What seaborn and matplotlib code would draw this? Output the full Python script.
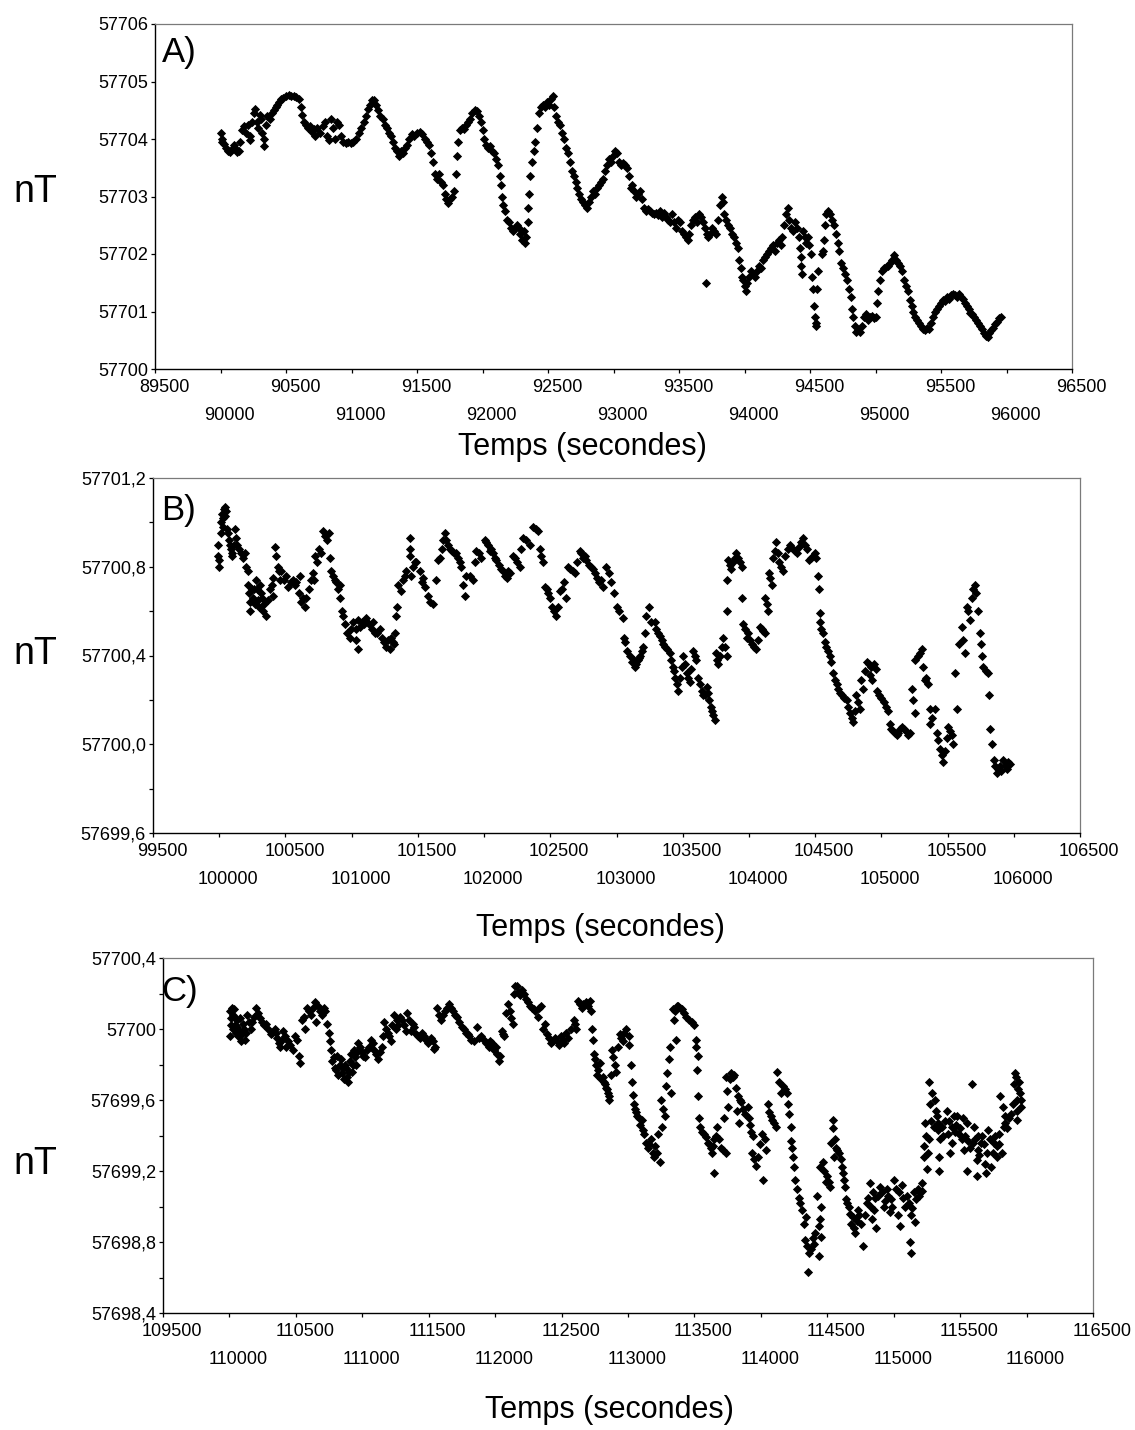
import matplotlib
matplotlib.use("Agg")
import matplotlib.pyplot as plt
import matplotlib.transforms as mtransforms
import pandas as pd
import seaborn as sns

# ---------------- data ----------------
time_a = [
    90005, 90010, 90015, 90030, 90045, 90060, 90075, 90090, 90100, 90110,
    90125, 90140, 90150, 90165, 90180, 90195, 90210, 90225, 90228, 90240,
    90255, 90265, 90275, 90290, 90300, 90310, 90320, 90330, 90335, 90345,
    90355, 90375, 90390, 90405, 90420, 90435, 90450, 90465, 90480, 90500,
    90520, 90540, 90560, 90580, 90600, 90615, 90625, 90635, 90650, 90665,
    90680, 90695, 90710, 90725, 90740, 90760, 90780, 90800, 90815, 90830,
    90845, 90860, 90875, 90890, 90905, 90920, 90935, 90955, 90975, 90995,
    91015, 91035, 91055, 91075, 91095, 91110, 91125, 91140, 91160, 91175,
    91190, 91205, 91220, 91240, 91255, 91270, 91285, 91300, 91315, 91330,
    91345, 91360, 91375, 91390, 91405, 91420, 91440, 91460, 91480, 91500,
    91520, 91540, 91560, 91575, 91590, 91605, 91620, 91635, 91650, 91665,
    91680, 91695, 91710, 91725, 91740, 91755, 91770, 91785, 91800, 91805,
    91815, 91830, 91845, 91860, 91875, 91890, 91905, 91920, 91940, 91955,
    91970, 91985, 92000, 92015, 92030, 92045, 92060, 92075, 92090, 92100,
    92115, 92130, 92140, 92150, 92160, 92170, 92185, 92200, 92215, 92230,
    92245, 92260, 92275, 92290, 92300, 92315, 92325, 92335, 92345, 92350,
    92355, 92365, 92375, 92390, 92400, 92415, 92430, 92445, 92460, 92475,
    92490, 92505, 92520, 92535, 92545, 92560, 92575, 92590, 92605, 92620,
    92635, 92650, 92665, 92680, 92695, 92710, 92725, 92740, 92755, 92770,
    92785, 92800, 92815, 92830, 92845, 92860, 92875, 92890, 92905, 92920,
    92935, 92950, 92965, 92980, 92995, 93010, 93025, 93040, 93055, 93070,
    93085, 93100, 93115, 93130, 93145, 93160, 93175, 93190, 93205, 93220,
    93235, 93250, 93265, 93280, 93295, 93310, 93325, 93340, 93355, 93370,
    93385, 93400, 93415, 93430, 93445, 93460, 93475, 93490, 93505, 93520,
    93535, 93550, 93565, 93580, 93595, 93610, 93625, 93640, 93655, 93670,
    93685, 93700, 93710, 93708, 93725, 93740, 93755, 93770, 93785, 93800,
    93815, 93825, 93835, 93845, 93860, 93875, 93890, 93905, 93920, 93935,
    93950, 93960, 93970, 93980, 93990, 94000, 94010, 94020, 94035, 94050,
    94065, 94080, 94095, 94110, 94125, 94140, 94155, 94170, 94185, 94200,
    94215, 94230, 94245, 94260, 94275, 94290, 94305, 94320, 94330, 94340,
    94355, 94370, 94385, 94400, 94415, 94425, 94430, 94435, 94440, 94450,
    94460, 94470, 94485, 94495, 94505, 94515, 94522, 94528, 94535, 94542,
    94547, 94555, 94560, 94590, 94600, 94610, 94615, 94625, 94640, 94650,
    94665, 94680, 94695, 94710, 94725, 94740, 94755, 94770, 94785, 94800,
    94810, 94820, 94830, 94840, 94850, 94865, 94880, 94895, 94910, 94925,
    94940, 94955, 94970, 94985, 95000, 95012, 95022, 95035, 95050, 95065,
    95080, 95095, 95110, 95125, 95140, 95155, 95170, 95185, 95200, 95215,
    95230, 95245, 95260, 95275, 95290, 95305, 95320, 95335, 95350, 95365,
    95380, 95395, 95410, 95425, 95440, 95455, 95470, 95485, 95500, 95515,
    95530, 95545, 95560, 95575, 95590, 95605, 95620, 95635, 95650, 95665,
    95680, 95695, 95710, 95725, 95740, 95755, 95770, 95785, 95800, 95815,
    95830, 95845, 95855, 95865, 95880, 95895, 95910, 95925, 95940, 95955,
]
field_a = [
    57704.10, 57704.00, 57703.95, 57703.92, 57703.85, 57703.80, 57703.78, 57703.82, 57703.90, 57703.85,
    57703.78, 57703.80, 57703.95, 57704.15, 57704.22, 57704.10, 57704.25, 57704.05, 57703.98, 57704.30,
    57704.45, 57704.52, 57704.30, 57704.20, 57704.42, 57704.35, 57704.10, 57704.00, 57703.88, 57704.25,
    57704.40, 57704.35, 57704.45, 57704.50, 57704.55, 57704.60, 57704.65, 57704.70, 57704.72, 57704.75,
    57704.76, 57704.74, 57704.75, 57704.73, 57704.70, 57704.55, 57704.42, 57704.30, 57704.25, 57704.20,
    57704.22, 57704.12, 57704.18, 57704.05, 57704.20, 57704.10, 57704.22, 57704.30, 57704.05, 57703.98,
    57704.35, 57704.20, 57704.00, 57704.30, 57704.25, 57704.05, 57703.95, 57703.93, 57703.94, 57703.93,
    57703.95, 57704.00, 57704.10, 57704.20, 57704.30, 57704.40, 57704.52, 57704.60, 57704.68, 57704.68,
    57704.60, 57704.50, 57704.40, 57704.35, 57704.25, 57704.20, 57704.10, 57704.05, 57703.95, 57703.85,
    57703.80, 57703.70, 57703.80, 57703.75, 57703.85, 57703.90, 57704.00, 57704.08, 57704.05, 57704.10,
    57704.12, 57704.08, 57704.00, 57703.95, 57703.90, 57703.75, 57703.60, 57703.40, 57703.30, 57703.40,
    57703.25, 57703.20, 57703.05, 57702.95, 57702.88, 57702.95, 57703.00, 57703.10, 57703.40, 57703.70,
    57703.95, 57704.15, 57704.20, 57704.18, 57704.25, 57704.30, 57704.35, 57704.45, 57704.50, 57704.48,
    57704.40, 57704.30, 57704.15, 57704.00, 57703.90, 57703.85, 57703.88, 57703.80, 57703.75, 57703.65,
    57703.55, 57703.35, 57703.20, 57703.00, 57702.85, 57702.75, 57702.60, 57702.55, 57702.45, 57702.40,
    57702.45, 57702.50, 57702.45, 57702.35, 57702.25, 57702.40, 57702.20, 57702.30, 57702.55, 57702.80,
    57703.05, 57703.35, 57703.60, 57703.80, 57703.95, 57704.20, 57704.45, 57704.55, 57704.60, 57704.55,
    57704.65, 57704.60, 57704.70, 57704.74, 57704.55, 57704.40, 57704.30, 57704.25, 57704.10, 57704.00,
    57703.85, 57703.75, 57703.60, 57703.45, 57703.35, 57703.25, 57703.15, 57703.05, 57702.95, 57702.90,
    57702.85, 57702.80, 57702.90, 57703.00, 57703.10, 57703.05, 57703.15, 57703.20, 57703.25, 57703.30,
    57703.45, 57703.55, 57703.65, 57703.60, 57703.70, 57703.80, 57703.75, 57703.60, 57703.55, 57703.58,
    57703.55, 57703.50, 57703.35, 57703.15, 57703.20, 57703.10, 57703.00, 57703.05, 57703.10, 57702.95,
    57702.80, 57702.75, 57702.78, 57702.75, 57702.72, 57702.70, 57702.72, 57702.68, 57702.75, 57702.65,
    57702.72, 57702.65, 57702.60, 57702.55, 57702.70, 57702.55, 57702.45, 57702.60, 57702.55, 57702.40,
    57702.35, 57702.30, 57702.25, 57702.35, 57702.50, 57702.60, 57702.65, 57702.55, 57702.70, 57702.65,
    57702.55, 57702.45, 57702.35, 57701.49, 57702.30, 57702.35, 57702.45, 57702.40, 57702.35, 57702.60,
    57702.85, 57703.00, 57702.90, 57702.70, 57702.60, 57702.50, 57702.45, 57702.35, 57702.30, 57702.20,
    57702.10, 57701.90, 57701.75, 57701.60, 57701.55, 57701.45, 57701.35, 57701.50, 57701.60, 57701.70,
    57701.65, 57701.60, 57701.70, 57701.80, 57701.75, 57701.90, 57701.95, 57702.00, 57702.05, 57702.10,
    57702.15, 57702.05, 57702.20, 57702.25, 57702.15, 57702.30, 57702.50, 57702.70, 57702.80, 57702.60,
    57702.45, 57702.40, 57702.55, 57702.45, 57702.30, 57702.10, 57701.95, 57701.80, 57701.65, 57702.40,
    57702.30, 57702.20, 57702.30, 57702.15, 57702.00, 57701.60, 57701.40, 57701.10, 57700.90, 57700.75,
    57700.80, 57701.40, 57701.70, 57702.00, 57702.05, 57702.25, 57702.50, 57702.70, 57702.75, 57702.70,
    57702.60, 57702.50, 57702.35, 57702.20, 57702.05, 57701.85, 57701.75, 57701.65, 57701.55, 57701.40,
    57701.25, 57701.05, 57700.90, 57700.75, 57700.65, 57700.68, 57700.65, 57700.75, 57700.90, 57700.95,
    57700.85, 57700.90, 57700.92, 57700.88, 57700.90, 57701.15, 57701.35, 57701.55, 57701.70, 57701.75,
    57701.78, 57701.80, 57701.85, 57701.90, 57701.98, 57701.90, 57701.85, 57701.80, 57701.70, 57701.55,
    57701.45, 57701.35, 57701.20, 57701.10, 57701.00, 57700.90, 57700.85, 57700.80, 57700.75, 57700.70,
    57700.68, 57700.72, 57700.70, 57700.80, 57700.90, 57701.00, 57701.05, 57701.10, 57701.15, 57701.20,
    57701.18, 57701.25, 57701.22, 57701.28, 57701.30, 57701.28, 57701.25, 57701.30, 57701.25, 57701.22,
    57701.15, 57701.10, 57701.05, 57700.98, 57700.95, 57700.90, 57700.85, 57700.80, 57700.75, 57700.70,
    57700.62, 57700.58, 57700.55, 57700.62, 57700.68, 57700.72, 57700.78, 57700.82, 57700.88, 57700.90,
]

time_b = [
    99990, 99992, 99995, 100010, 100015, 100020, 100030, 100035, 100045, 100050,
    100060, 100065, 100075, 100080, 100090, 100095, 100117, 100125, 100135, 100150,
    100165, 100180, 100195, 100205, 100215, 100220, 100225, 100230, 100235, 100245,
    100255, 100280, 100283, 100295, 100298, 100310, 100313, 100325, 100328, 100340,
    100350, 100406, 100409, 100420, 100430, 100445, 100470, 100490, 100505, 100520,
    100540, 100583, 100600, 100608, 100615, 100630, 100645, 100658, 100709, 100712,
    100721, 100740, 100755, 100770, 100784, 100800, 100815, 100828, 100835, 100847,
    100873, 100910, 100915, 100925, 100935, 100950, 100965, 100986, 101011, 101030,
    101036, 101045, 101050, 101060, 101075, 101111, 101130, 101150, 101165, 101180,
    101212, 101230, 101245, 101260, 101275, 101288, 101300, 101320, 101338, 101340,
    101350, 101375, 101413, 101438, 101440, 101442, 101450, 101464, 101489, 101515,
    101540, 101552, 101575, 101595, 101615, 101640, 101650, 101703, 101715, 101729,
    101741, 101791, 101829, 101854, 101867, 101892, 101917, 101942, 101980, 102005,
    102030, 102055, 102093, 102131, 102144, 102170, 102194, 102219, 102269, 102295,
    102345, 102370, 102408, 102420, 102446, 102458, 102496, 102510, 102546, 102571,
    102622, 102634, 102685, 102723, 102748, 102773, 102823, 102849, 102899, 102924,
    102962, 103000, 103050, 103055, 103063, 103080, 103100, 103120, 103140, 103160,
    103180, 103200, 103226, 103245, 103264, 103289, 103315, 103340, 103365, 103403,
    103425, 103445, 103466, 103503, 103530, 103554, 103579, 103600, 103617, 103655,
    103680, 103700, 103720, 103743, 103750, 103768, 103806, 103831, 103835, 103838,
    103843, 103868, 103906, 103944, 103948, 103957, 103994, 104025, 104057, 104082,
    104120, 104125, 104146, 104150, 104171, 104196, 104208, 104230, 104259, 104309,
    104360, 104410, 104435, 104455, 104497, 104523, 104526, 104535, 104538, 104560,
    104573, 104598, 104620, 104636, 104674, 104737, 104762, 104787, 104812, 104837,
    104845, 104863, 104888, 104925, 104930, 104963, 104966, 105001, 105052, 105064,
    105090, 105115, 105140, 105153, 105216, 105228, 105253, 105256, 105304, 105317,
    105329, 105354, 105367, 105370, 105404, 105417, 105442, 105467, 105505, 105543,
    105555, 105568, 105606, 105631, 105643, 105669, 105706, 105715, 105730, 105744,
    105750, 105769, 105807, 105815, 105820, 105832, 105850, 105870, 105895, 105920,
    105945, 105971,
    100002, 100025, 100040, 100100, 100108, 100262, 100268, 100370, 100385, 100395,
    100455, 100460, 100555, 100570, 100675, 100690, 100860, 100885, 100898, 100995,
    101090, 101100, 101195, 101310, 101330, 101390, 101400, 101475, 101528, 101665,
    101680, 101690, 101760, 101775, 101805, 101815, 101842, 101930, 101960, 102018,
    102042, 102070, 102080, 102110, 102157, 102182, 102235, 102250, 102282, 102320,
    102390, 102433, 102472, 102485, 102528, 102560, 102590, 102605, 102652, 102668,
    102700, 102735, 102760, 102795, 102810, 102835, 102870, 102885, 102940, 102980,
    103020, 103130, 103150, 103170, 103190, 103212, 103300, 103328, 103352, 103385,
    103415, 103435, 103455, 103480, 103492, 103515, 103542, 103565, 103590, 103630,
    103642, 103668, 103690, 103710, 103730, 103758, 103785, 103795, 103818, 103855,
    103882, 103895, 103920, 103932, 103970, 103983, 104008, 104040, 104068, 104095,
    104108, 104135, 104160, 104185, 104218, 104245, 104275, 104292, 104330, 104345,
    104380, 104395, 104422, 104470, 104485, 104510, 104548, 104585, 104610, 104652,
    104662, 104690, 104705, 104720, 104750, 104775, 104800, 104825, 104875, 104905,
    104915, 104945, 104982, 105020, 105038, 105076, 105102, 105128, 105170, 105185,
    105200, 105240, 105280, 105292, 105340, 105385, 105430, 105455, 105480, 105493,
    105520, 105533, 105585, 105620, 105655, 105685, 105695, 105760, 105790, 105860,
    105880, 105905, 105932, 105958,
]
field_b = [
    57700.90, 57700.85, 57700.80, 57700.95, 57701.00, 57701.04, 57701.02, 57701.06, 57701.07, 57701.05,
    57700.97, 57700.95, 57700.92, 57700.90, 57700.88, 57700.86, 57700.97, 57700.93, 57700.90, 57700.88,
    57700.86, 57700.84, 57700.86, 57700.80, 57700.78, 57700.72, 57700.68, 57700.64, 57700.60, 57700.70,
    57700.66, 57700.74, 57700.70, 57700.65, 57700.62, 57700.72, 57700.68, 57700.66, 57700.60, 57700.63,
    57700.58, 57700.75, 57700.67, 57700.89, 57700.85, 57700.80, 57700.78, 57700.74, 57700.76, 57700.71,
    57700.73, 57700.73, 57700.68, 57700.76, 57700.64, 57700.66, 57700.62, 57700.66, 57700.77, 57700.74,
    57700.85, 57700.82, 57700.88, 57700.86, 57700.96, 57700.94, 57700.92, 57700.95, 57700.84, 57700.78,
    57700.74, 57700.72, 57700.66, 57700.60, 57700.58, 57700.54, 57700.50, 57700.48, 57700.55, 57700.52,
    57700.47, 57700.56, 57700.43, 57700.53, 57700.55, 57700.57, 57700.54, 57700.52, 57700.55, 57700.50,
    57700.52, 57700.48, 57700.46, 57700.44, 57700.47, 57700.43, 57700.48, 57700.45, 57700.58, 57700.62,
    57700.72, 57700.69, 57700.78, 57700.93, 57700.88, 57700.85, 57700.76, 57700.80, 57700.82, 57700.78,
    57700.75, 57700.71, 57700.67, 57700.64, 57700.63, 57700.74, 57700.83, 57700.95, 57700.92, 57700.90,
    57700.88, 57700.86, 57700.80, 57700.67, 57700.76, 57700.76, 57700.74, 57700.87, 57700.84, 57700.92,
    57700.90, 57700.88, 57700.83, 57700.79, 57700.78, 57700.75, 57700.77, 57700.85, 57700.80, 57700.93,
    57700.90, 57700.98, 57700.96, 57700.88, 57700.82, 57700.71, 57700.66, 57700.62, 57700.58, 57700.69,
    57700.66, 57700.80, 57700.77, 57700.87, 57700.84, 57700.83, 57700.79, 57700.75, 57700.71, 57700.80,
    57700.73, 57700.62, 57700.57, 57700.48, 57700.46, 57700.42, 57700.40, 57700.37, 57700.35, 57700.38,
    57700.40, 57700.44, 57700.58, 57700.62, 57700.55, 57700.55, 57700.50, 57700.47, 57700.44, 57700.41,
    57700.35, 57700.30, 57700.24, 57700.40, 57700.32, 57700.28, 57700.42, 57700.38, 57700.30, 57700.22,
    57700.26, 57700.20, 57700.15, 57700.11, 57700.41, 57700.36, 57700.48, 57700.40, 57700.74, 57700.60,
    57700.83, 57700.79, 57700.86, 57700.80, 57700.66, 57700.54, 57700.50, 57700.45, 57700.43, 57700.53,
    57700.50, 57700.66, 57700.60, 57700.77, 57700.72, 57700.87, 57700.91, 57700.82, 57700.78, 57700.90,
    57700.86, 57700.93, 57700.88, 57700.83, 57700.86, 57700.76, 57700.70, 57700.59, 57700.55, 57700.50,
    57700.46, 57700.42, 57700.37, 57700.32, 57700.25, 57700.20, 57700.14, 57700.10, 57700.22, 57700.16,
    57700.29, 57700.25, 57700.37, 57700.35, 57700.29, 57700.34, 57700.24, 57700.21, 57700.15, 57700.09,
    57700.06, 57700.04, 57700.07, 57700.08, 57700.05, 57700.25, 57700.14, 57700.38, 57700.43, 57700.35,
    57700.29, 57700.27, 57700.16, 57700.09, 57700.16, 57700.05, 57699.98, 57699.92, 57700.08, 57700.00,
    57700.32, 57700.16, 57700.53, 57700.41, 57700.62, 57700.56, 57700.72, 57700.68, 57700.60, 57700.50,
    57700.45, 57700.35, 57700.32, 57700.22, 57700.07, 57700.00, 57699.93, 57699.87, 57699.90, 57699.93,
    57699.89, 57699.91,
    57700.83, 57700.98, 57701.03, 57700.85, 57700.90, 57700.70, 57700.63, 57700.65, 57700.70, 57700.72,
    57700.78, 57700.74, 57700.74, 57700.72, 57700.70, 57700.74, 57700.76, 57700.73, 57700.70, 57700.52,
    57700.54, 57700.56, 57700.50, 57700.46, 57700.50, 57700.74, 57700.76, 57700.82, 57700.73, 57700.84,
    57700.88, 57700.92, 57700.87, 57700.86, 57700.84, 57700.82, 57700.72, 57700.82, 57700.86, 57700.91,
    57700.87, 57700.86, 57700.84, 57700.81, 57700.76, 57700.78, 57700.84, 57700.82, 57700.88, 57700.92,
    57700.97, 57700.85, 57700.70, 57700.68, 57700.60, 57700.62, 57700.70, 57700.73, 57700.79, 57700.78,
    57700.82, 57700.86, 57700.85, 57700.81, 57700.80, 57700.77, 57700.73, 57700.74, 57700.77, 57700.68,
    57700.60, 57700.38, 57700.36, 57700.39, 57700.42, 57700.50, 57700.52, 57700.49, 57700.45, 57700.43,
    57700.38, 57700.33, 57700.27, 57700.30, 57700.35, 57700.36, 57700.30, 57700.34, 57700.40, 57700.27,
    57700.24, 57700.22, 57700.23, 57700.17, 57700.13, 57700.38, 57700.40, 57700.44, 57700.44, 57700.81,
    57700.82, 57700.84, 57700.84, 57700.82, 57700.52, 57700.48, 57700.47, 57700.44, 57700.47, 57700.52,
    57700.51, 57700.63, 57700.75, 57700.84, 57700.86, 57700.80, 57700.85, 57700.88, 57700.88, 57700.87,
    57700.89, 57700.91, 57700.90, 57700.84, 57700.85, 57700.84, 57700.52, 57700.44, 57700.40, 57700.29,
    57700.27, 57700.23, 57700.22, 57700.21, 57700.17, 57700.12, 57700.15, 57700.19, 57700.33, 57700.36,
    57700.31, 57700.36, 57700.22, 57700.19, 57700.17, 57700.07, 57700.05, 57700.05, 57700.07, 57700.06,
    57700.04, 57700.20, 57700.40, 57700.41, 57700.30, 57700.12, 57700.02, 57699.95, 57699.97, 57700.03,
    57700.06, 57700.04, 57700.45, 57700.47, 57700.60, 57700.66, 57700.70, 57700.40, 57700.33, 57699.90,
    57699.89, 57699.88, 57699.90, 57699.92,
]

time_c = [
    110003, 110010, 110020, 110030, 110040, 110050, 110060, 110075, 110090, 110105,
    110120, 110135, 110160, 110203, 110230, 110260, 110279, 110310, 110340, 110360,
    110380, 110404, 110440, 110475, 110505, 110525, 110530, 110545, 110570, 110585,
    110615, 110645, 110655, 110680, 110710, 110735, 110750, 110760, 110765, 110775,
    110800, 110810, 110830, 110845, 110860, 110880, 110895, 110910, 110925, 110940,
    110955, 110970, 110995, 111020, 111050, 111065, 111090, 111115, 111145, 111165,
    111190, 111215, 111250, 111240, 111270, 111300, 111330, 111335, 111390, 111420,
    111450, 111480, 111515, 111550, 111565, 111590, 111620, 111650, 111680, 111715,
    111750, 111780, 111805, 111840, 111860, 111880, 111915, 111950, 111980, 112005,
    112030, 112050, 112070, 112100, 112120, 112135, 112150, 112185, 112200, 112245,
    112260, 112300, 112320, 112345, 112360, 112390, 112420, 112450, 112480, 112510,
    112535, 112590, 112612, 112620, 112650, 112685, 112714, 112718, 112727, 112739,
    112745, 112775, 112790, 112800, 112820, 112835, 112850, 112860, 112880, 112900,
    112912, 112925, 112940, 112960, 112985, 113005, 113010, 113020, 113030, 113035,
    113050, 113065, 113103, 113120, 113150, 113170, 113205, 113228, 113240, 113245,
    113275, 113305, 113325, 113335, 113362, 113370, 113390, 113420, 113460, 113500,
    113510, 113525, 113520, 113528, 113535, 113560, 113575, 113600, 113625, 113650,
    113640, 113645, 113670, 113700, 113740, 113735, 113755, 113775, 113800, 113815,
    113850, 113820, 113835, 113900, 113920, 113944, 113935, 113965, 114010, 114040,
    114019, 114050, 114085, 114115, 114125, 114150, 114200, 114215, 114230, 114225,
    114245, 114258, 114295, 114340, 114335, 114365, 114358, 114400, 114440, 114425,
    114445, 114435, 114450, 114446, 114500, 114520, 114540, 114555, 114530, 114550,
    114590, 114618, 114634, 114640, 114660, 114680, 114710, 114740, 114772, 114800,
    114835, 114870, 114820, 114845, 114900, 114935, 114970, 114950, 114990, 115005,
    115060, 115030, 115050, 115100, 115130, 115160, 115124, 115127, 115150, 115190,
    115212, 115215, 115225, 115250, 115237, 115262, 115265, 115290, 115325, 115315,
    115330, 115350, 115340, 115342, 115400, 115450, 115410, 115440, 115425, 115480,
    115550, 115490, 115530, 115551, 115588, 115605, 115635, 115615, 115638, 115626,
    115628, 115655, 115700, 115690, 115695, 115710, 115775, 115735, 115790, 115812,
    115802, 115820, 115840, 115838, 115905, 115925, 115915, 115918, 115927, 115930,
    115952, 115955,
    110005, 110015, 110025, 110035, 110045, 110055, 110068, 110082, 110098, 110112,
    110128, 110145, 110170, 110185, 110215, 110245, 110292, 110322, 110352, 110370,
    110392, 110415, 110428, 110455, 110490, 110560, 110600, 110630, 110665, 110695,
    110722, 110785, 110792, 110820, 110838, 110852, 110868, 110888, 110903, 110918,
    110932, 110948, 110962, 110982, 111005, 111035, 111078, 111100, 111130, 111155,
    111178, 111200, 111225, 111260, 111285, 111315, 111350, 111365, 111380, 111405,
    111435, 111465, 111495, 111530, 111540, 111575, 111605, 111635, 111665, 111695,
    111730, 111765, 111792, 111822, 111895, 111930, 111965, 111995, 112015, 112040,
    112060, 112085, 112110, 112140, 112165, 112175, 112215, 112230, 112275, 112290,
    112332, 112372, 112405, 112435, 112465, 112495, 112520, 112550, 112570, 112600,
    112635, 112665, 112700, 112752, 112760, 112768, 112810, 112828, 112842, 112855,
    112870, 112890, 112950, 112970, 113042, 113058, 113080, 113092, 113110, 113135,
    113160, 113185, 113195, 113215, 113255, 113265, 113285, 113295, 113315, 113345,
    113355, 113380, 113405, 113440, 113480, 113515, 113545, 113590, 113612, 113635,
    113660, 113685, 113715, 113725, 113745, 113765, 113790, 113828, 113840, 113862,
    113880, 113910, 113928, 113952, 113980, 113995, 114030, 114062, 114075, 114100,
    114135, 114165, 114180, 114208, 114238, 114252, 114270, 114285, 114312, 114325,
    114348, 114375, 114390, 114410, 114455, 114465, 114478, 114488, 114510, 114545,
    114562, 114572, 114600, 114610, 114625, 114650, 114670, 114690, 114700, 114722,
    114732, 114755, 114785, 114810, 114828, 114855, 114862, 114885, 114915, 114925,
    114960, 114980, 115015, 115040, 115070, 115082, 115112, 115140, 115170, 115180,
    115200, 115230, 115245, 115255, 115275, 115283, 115300, 115310, 115335, 115360,
    115372, 115388, 115415, 115435, 115460, 115470, 115500, 115515, 115522, 115540,
    115560, 115575, 115595, 115645, 115665, 115680, 115722, 115745, 115755, 115765,
    115780, 115795, 115828, 115850, 115865, 115882, 115895, 115935, 115945, 115960,
]
field_c = [
    57699.96, 57700.06, 57700.12, 57700.08, 57700.02, 57699.98, 57700.05, 57699.99, 57699.93, 57700.03,
    57699.94, 57700.08, 57700.00, 57700.12, 57700.06, 57700.02, 57700.03, 57699.97, 57700.00, 57699.95,
    57699.90, 57699.99, 57699.93, 57699.88, 57699.94, 57699.85, 57699.81, 57700.05, 57700.00, 57700.12,
    57700.08, 57700.15, 57700.04, 57700.10, 57700.12, 57700.03, 57699.98, 57699.93, 57699.88, 57699.82,
    57699.77, 57699.85, 57699.80, 57699.75, 57699.72, 57699.78, 57699.70, 57699.82, 57699.76, 57699.88,
    57699.80, 57699.92, 57699.87, 57699.84, 57699.90, 57699.94, 57699.88, 57699.83, 57699.90, 57700.04,
    57699.98, 57699.93, 57700.00, 57700.08, 57700.02, 57700.05, 57699.99, 57700.09, 57700.01, 57699.96,
    57699.98, 57699.94, 57699.95, 57699.90, 57700.12, 57700.05, 57700.10, 57700.14, 57700.10, 57700.07,
    57700.01, 57699.98, 57699.96, 57699.93, 57700.01, 57699.95, 57699.94, 57699.90, 57699.92, 57699.90,
    57699.82, 57699.99, 57699.96, 57700.14, 57700.06, 57700.03, 57700.24, 57700.19, 57700.22, 57700.15,
    57700.13, 57700.10, 57700.07, 57700.13, 57700.00, 57699.97, 57699.92, 57699.95, 57699.91, 57699.94,
    57699.98, 57700.05, 57700.00, 57700.16, 57700.12, 57700.15, 57700.16, 57700.10, 57700.00, 57699.94,
    57699.86, 57699.77, 57699.81, 57699.72, 57699.70, 57699.67, 57699.64, 57699.60, 57699.88, 57699.80,
    57699.76, 57699.90, 57699.97, 57699.93, 57700.00, 57699.96, 57699.91, 57699.80, 57699.70, 57699.63,
    57699.55, 57699.51, 57699.49, 57699.41, 57699.33, 57699.38, 57699.34, 57699.41, 57699.25, 57699.60,
    57699.51, 57699.83, 57699.64, 57700.11, 57699.94, 57700.13, 57700.12, 57700.09, 57700.05, 57700.02,
    57699.94, 57699.85, 57699.77, 57699.62, 57699.50, 57699.42, 57699.41, 57699.36, 57699.33, 57699.38,
    57699.34, 57699.19, 57699.45, 57699.33, 57699.30, 57699.73, 57699.56, 57699.75, 57699.74, 57699.67,
    57699.59, 57699.54, 57699.47, 57699.56, 57699.46, 57699.40, 57699.30, 57699.23, 57699.41, 57699.32,
    57699.15, 57699.58, 57699.49, 57699.45, 57699.76, 57699.64, 57699.64, 57699.52, 57699.45, 57699.37,
    57699.28, 57699.15, 57699.02, 57698.94, 57698.81, 57698.74, 57698.63, 57698.79, 57698.72, 57699.06,
    57698.93, 57698.89, 57698.83, 57699.22, 57699.17, 57699.11, 57699.49, 57699.38, 57699.36, 57699.28,
    57699.30, 57699.19, 57699.11, 57699.04, 57699.00, 57698.90, 57698.85, 57698.95, 57698.78, 57699.02,
    57698.93, 57698.88, 57699.13, 57699.08, 57699.11, 57699.03, 57698.97, 57699.10, 57699.00, 57699.15,
    57699.12, 57698.95, 57698.89, 57699.06, 57698.95, 57698.91, 57698.80, 57698.74, 57699.08, 57699.06,
    57699.13, 57699.09, 57699.34, 57699.21, 57699.47, 57699.38, 57699.70, 57699.64, 57699.51, 57699.54,
    57699.43, 57699.38, 57699.28, 57699.20, 57699.54, 57699.51, 57699.41, 57699.36, 57699.30, 57699.51,
    57699.47, 57699.41, 57699.32, 57699.20, 57699.69, 57699.45, 57699.40, 57699.38, 57699.32, 57699.26,
    57699.17, 57699.36, 57699.30, 57699.24, 57699.19, 57699.43, 57699.34, 57699.22, 57699.41, 57699.30,
    57699.62, 57699.56, 57699.51, 57699.47, 57699.69, 57699.60, 57699.75, 57699.73, 57699.54, 57699.49,
    57699.64, 57699.60,
    57700.10, 57700.02, 57700.00, 57700.11, 57700.06, 57700.01, 57699.96, 57700.06, 57699.97, 57700.00,
    57699.98, 57700.04, 57700.04, 57700.07, 57700.09, 57700.04, 57700.00, 57699.98, 57699.98, 57699.92,
    57699.94, 57699.96, 57699.90, 57699.91, 57699.96, 57700.07, 57700.10, 57700.12, 57700.13, 57700.08,
    57700.10, 57699.84, 57699.78, 57699.74, 57699.83, 57699.78, 57699.80, 57699.73, 57699.76, 57699.86,
    57699.80, 57699.84, 57699.87, 57699.90, 57699.85, 57699.88, 57699.92, 57699.86, 57699.87, 57699.96,
    57700.00, 57699.96, 57700.02, 57700.05, 57700.07, 57700.02, 57700.05, 57699.99, 57700.03, 57699.97,
    57699.95, 57699.96, 57699.92, 57699.93, 57699.89, 57700.08, 57700.08, 57700.12, 57700.12, 57700.08,
    57700.04, 57700.00, 57699.97, 57699.94, 57699.96, 57699.92, 57699.93, 57699.88, 57699.86, 57699.85,
    57699.97, 57700.09, 57700.10, 57700.20, 57700.24, 57700.21, 57700.20, 57700.17, 57700.12, 57700.11,
    57700.12, 57700.03, 57699.95, 57699.93, 57699.93, 57699.96, 57699.92, 57699.95, 57700.00, 57700.03,
    57700.14, 57700.14, 57700.13, 57699.83, 57699.80, 57699.74, 57699.73, 57699.69, 57699.66, 57699.62,
    57699.74, 57699.84, 57699.95, 57699.98, 57699.58, 57699.53, 57699.50, 57699.46, 57699.43, 57699.36,
    57699.35, 57699.30, 57699.28, 57699.30, 57699.45, 57699.55, 57699.68, 57699.75, 57699.90, 57700.05,
    57700.10, 57700.13, 57700.11, 57700.07, 57700.04, 57699.90, 57699.45, 57699.39, 57699.35, 57699.30,
    57699.40, 57699.38, 57699.32, 57699.50, 57699.65, 57699.72, 57699.73, 57699.62, 57699.60, 57699.55,
    57699.52, 57699.50, 57699.42, 57699.27, 57699.28, 57699.35, 57699.38, 57699.53, 57699.51, 57699.47,
    57699.70, 57699.68, 57699.66, 57699.58, 57699.33, 57699.22, 57699.10, 57699.05, 57698.98, 57698.90,
    57698.78, 57698.76, 57698.82, 57698.85, 57699.00, 57699.25, 57699.20, 57699.14, 57699.14, 57699.44,
    57699.33, 57699.32, 57699.27, 57699.22, 57699.15, 57699.02, 57698.96, 57698.94, 57698.88, 57698.92,
    57698.98, 57698.90, 57698.95, 57699.05, 57699.00, 57698.98, 57699.05, 57699.06, 57699.08, 57699.00,
    57699.06, 57699.04, 57699.10, 57699.08, 57699.05, 57699.00, 57699.02, 57698.99, 57699.04, 57699.10,
    57699.08, 57699.28, 57699.40, 57699.30, 57699.58, 57699.48, 57699.45, 57699.60, 57699.47, 57699.45,
    57699.40, 57699.48, 57699.48, 57699.45, 57699.42, 57699.46, 57699.44, 57699.38, 57699.50, 57699.40,
    57699.37, 57699.33, 57699.36, 57699.29, 57699.40, 57699.35, 57699.38, 57699.30, 57699.36, 57699.40,
    57699.28, 57699.35, 57699.45, 57699.44, 57699.50, 57699.52, 57699.58, 57699.66, 57699.70, 57699.56,
]

# axis ticks and labels
xticks_upper_a = [89500, 90500, 91500, 92500, 93500, 94500, 95500, 96500]
xticks_lower_a = [90000, 91000, 92000, 93000, 94000, 95000, 96000]
xticks_upper_b = [99500, 100500, 101500, 102500, 103500, 104500, 105500, 106500]
xticks_lower_b = [100000, 101000, 102000, 103000, 104000, 105000, 106000]
xticks_upper_c = [109500, 110500, 111500, 112500, 113500, 114500, 115500, 116500]
xticks_lower_c = [110000, 111000, 112000, 113000, 114000, 115000, 116000]

yticks_a = [57700, 57701, 57702, 57703, 57704, 57705, 57706]
ylabels_a = ["57700", "57701", "57702", "57703", "57704", "57705", "57706"]
yminor_a = []
yticks_b = [57699.6, 57700.0, 57700.4, 57700.8, 57701.2]
ylabels_b = ["57699,6", "57700,0", "57700,4", "57700,8", "57701,2"]
yminor_b = [57699.8, 57700.2, 57700.6, 57701.0]
yticks_c = [57698.4, 57698.8, 57699.2, 57699.6, 57700.0, 57700.4]
ylabels_c = ["57698,4", "57698,8", "57699,2", "57699,6", "57700", "57700,4"]
yminor_c = [57698.6, 57699.0, 57699.4, 57699.8, 57700.2]

panel_letters = ["A)", "B)", "C)"]
x_title = "Temps (secondes)"
y_title = "nT"

assert len(time_a) == len(field_a)
assert len(time_b) == len(field_b)
assert len(time_c) == len(field_c)

# ---------------- style ----------------
sns.set_style("ticks")
plt.rcParams["font.family"] = ["Liberation Sans", "DejaVu Sans"]
plt.rcParams["text.color"] = "black"

W, H = 1135, 1430
fig = plt.figure(figsize=(W / 100, H / 100), dpi=100)


def rect(left, top, right, bottom):
    return [left / W, 1 - bottom / H, (right - left) / W, (bottom - top) / H]


panels = [
    dict(t=time_a, v=field_a, box=(155, 24, 1072, 369), xlim=(89500, 96500), ylim=(57700, 57706),
         xu=xticks_upper_a, xl=xticks_lower_a, yt=yticks_a, yl=ylabels_a, ym=yminor_a,
         letter_pos=(162, 36), ylab_pos=(35, 192), xlab_pos=(582, 447)),
    dict(t=time_b, v=field_b, box=(153, 478, 1080, 833), xlim=(99500, 106500), ylim=(57699.6, 57701.2),
         xu=xticks_upper_b, xl=xticks_lower_b, yt=yticks_b, yl=ylabels_b, ym=yminor_b,
         letter_pos=(161, 494), ylab_pos=(35, 654), xlab_pos=(600, 928)),
    dict(t=time_c, v=field_c, box=(163, 958, 1093, 1313), xlim=(109500, 116500), ylim=(57698.4, 57700.4),
         xu=xticks_upper_c, xl=xticks_lower_c, yt=yticks_c, yl=ylabels_c, ym=yminor_c,
         letter_pos=(161, 975), ylab_pos=(35, 1164), xlab_pos=(609, 1410)),
]

offset = mtransforms.ScaledTranslation(9 / 100, 0, fig.dpi_scale_trans)

for p, letter in zip(panels, panel_letters):
    ax = fig.add_axes(rect(*p["box"]))
    df = pd.DataFrame({"t": p["t"], "v": p["v"]})
    sns.scatterplot(data=df, x="t", y="v", ax=ax, marker="D", s=22, color="black",
                    linewidth=0, legend=False, clip_on=False)
    ax.set_xlim(*p["xlim"])
    ax.set_ylim(*p["ylim"])
    ax.set_xlabel("")
    ax.set_ylabel("")

    ax.set_xticks(p["xu"], labels=[str(v) for v in p["xu"]])
    ax.set_xticks(p["xl"], labels=[str(v) for v in p["xl"]], minor=True)
    ax.set_yticks(p["yt"], labels=p["yl"])
    ax.set_yticks(p["ym"], minor=True)

    ax.tick_params(axis="both", which="both", direction="out", length=3, width=0.9,
                   color="black", labelsize=13, labelcolor="black")
    ax.tick_params(axis="x", which="major", pad=4.5)
    ax.tick_params(axis="x", which="minor", pad=24.5)
    ax.tick_params(axis="y", which="both", pad=2)

    for lbl in ax.get_xticklabels(which="both"):
        lbl.set_transform(lbl.get_transform() + offset)

    for side in ["left", "bottom"]:
        ax.spines[side].set_color("black")
        ax.spines[side].set_linewidth(1.0)
    for side in ["top", "right"]:
        ax.spines[side].set_visible(True)
        ax.spines[side].set_color("#7a7a7a")
        ax.spines[side].set_linewidth(0.9)
    ax.grid(False)

    lx, ly = p["letter_pos"]
    fig.text(lx / W, 1 - ly / H, letter, fontsize=25, ha="left", va="top", color="black")
    yx, yy = p["ylab_pos"]
    fig.text(yx / W, 1 - yy / H, y_title, fontsize=27, ha="center", va="center", color="black")
    xx, xy = p["xlab_pos"]
    fig.text(xx / W, 1 - xy / H, x_title, fontsize=22, ha="center", va="center", color="black")

fig.savefig("out.png", dpi=100, facecolor="white")
